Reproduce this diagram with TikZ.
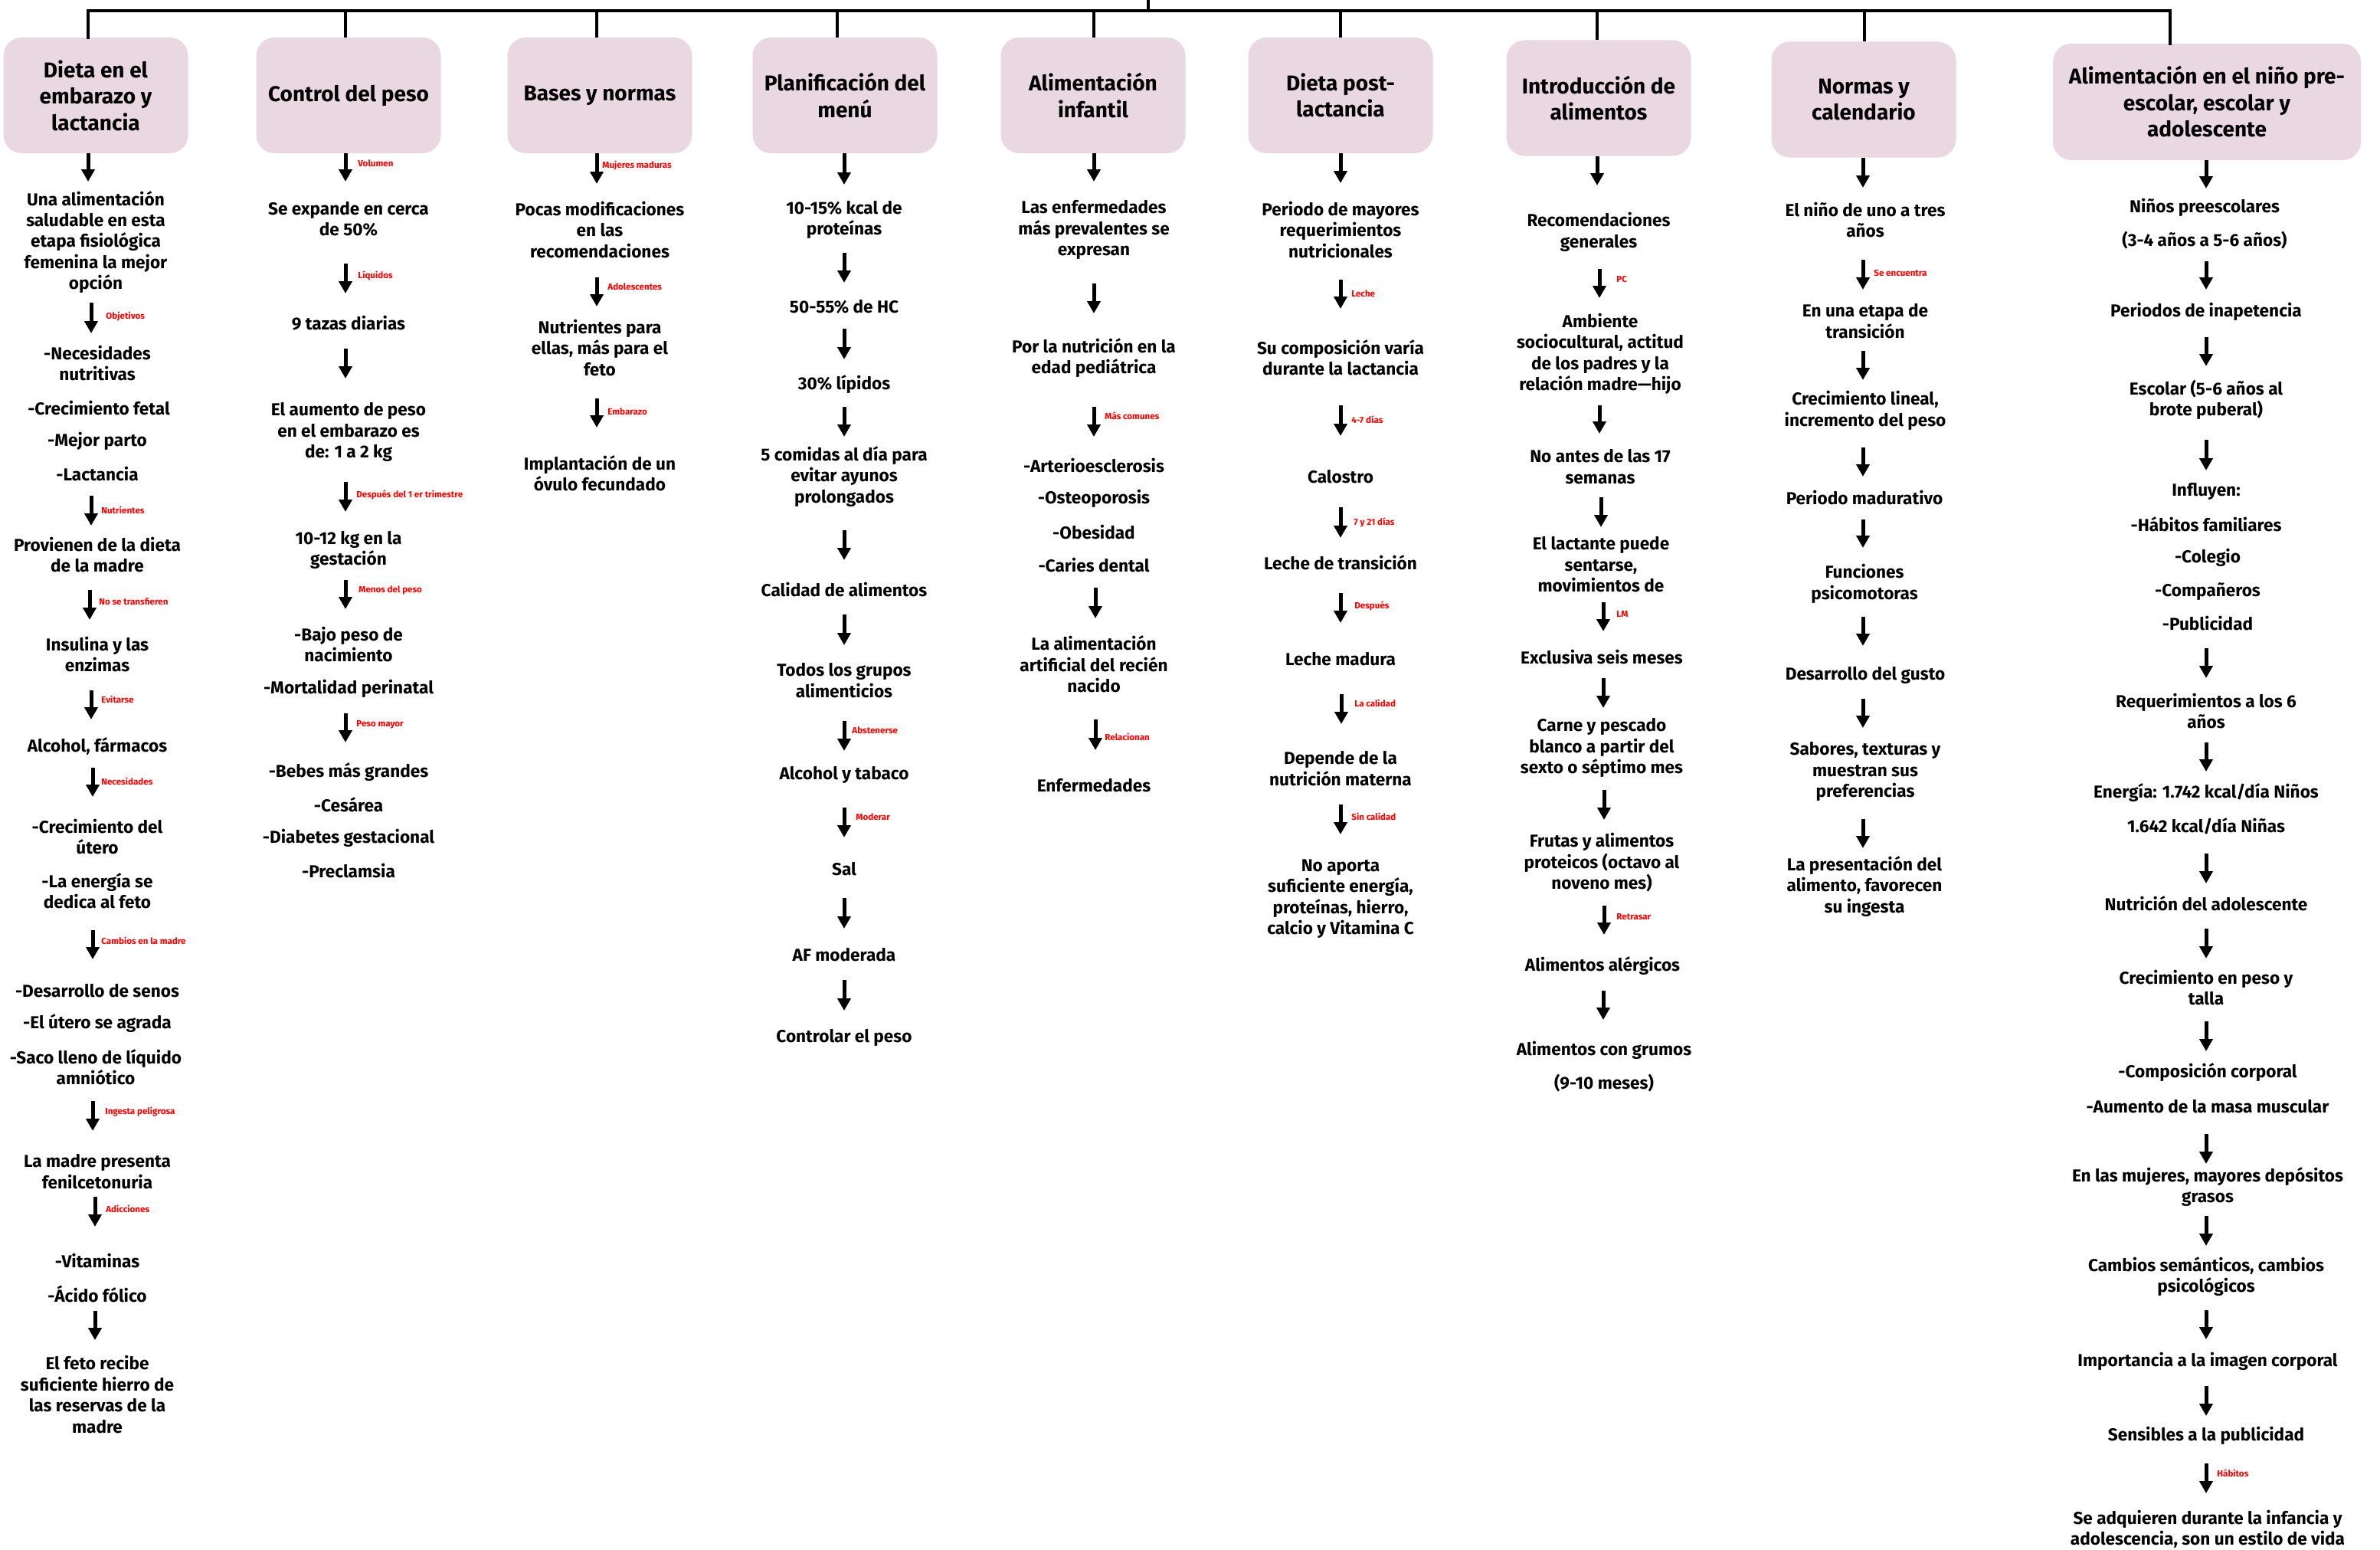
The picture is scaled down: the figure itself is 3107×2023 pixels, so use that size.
\documentclass[tikz,border=0pt]{standalone}
\usepackage{fontspec}
\setmainfont{Fira Sans}
\usetikzlibrary{arrows.meta}
\definecolor{boxpink}{RGB}{233,215,225}
\definecolor{lblred}{RGB}{255,0,0}
\tikzset{
 box/.style={fill=boxpink, rounded corners=12pt, minimum width=120.5pt, minimum height=75.5pt, align=center, inner sep=2pt, font=\fontsize{14}{17.25}\selectfont\bfseries},
 txt/.style={align=center, inner sep=0pt, font=\fontsize{11.3}{13.7}\selectfont\bfseries},
 lbl/.style={anchor=west, inner sep=0pt, text=lblred, font=\fontsize{5.8}{7}\selectfont\bfseries},
 arr/.style={line width=2.5pt, -{Triangle[width=8.5pt,length=8pt]}},
 conn/.style={line width=2pt},
}
\newcommand{\TXT}[4]{\node[txt] (#1) at (#2,#3) {#4};}
\newcommand{\ARW}[4]{\coordinate (#1s) at (#2,#3); \coordinate (#1e) at (#2,#4); \draw[arr] (#1s) -- (#1e);}
\newcommand{\LBL}[4]{\node[lbl] (#1) at (#2,#3) {#4};}
\begin{document}
\begin{tikzpicture}[x=0.5pt,y=-0.5pt]
\useasboundingbox (0,0) rectangle (3107,2023);
\fill[white] (0,0) rectangle (3107,2023);
% boxes
\node[box] (b1) at (125,124.5) {Dieta en el\\embarazo y\\lactancia};
\node[box] (b2) at (455,124.5) {Control del peso};
\node[box] (b3) at (783,124.5) {Bases y normas};
\node[box] (b4) at (1103,124.5) {Planificación del\\menú};
\node[box] (b5) at (1427,124.5) {Alimentación\\infantil};
\node[box] (b6) at (1750,124.5) {Dieta post-\\lactancia};
\node[box] (b7) at (2087,128) {Introducción de\\alimentos};
\node[box] (b8) at (2433,130) {Normas y\\calendario};
\node[box, minimum width=201pt, minimum height=76pt] (b9) at (2881,133) {Alimentación en el niño pre-\\escolar, escolar y\\adolescente};
% top connectors
\coordinate (top) at (1499,0);
\coordinate (hub) at (1499,14);
\coordinate (h1) at (115,14);
\coordinate (h2) at (451,14);
\coordinate (h3) at (779,14);
\coordinate (h4) at (1093,14);
\coordinate (h5) at (1428,14);
\coordinate (h6) at (1750,14);
\coordinate (h7) at (2085,14);
\coordinate (h8) at (2434,14);
\coordinate (h9) at (2833,14);
\draw[conn] (top) -- (hub);
\draw[conn, line cap=rect] (h1 |- b1.north) -- (h1) -- (h9) -- (h9 |- b9.north);
\foreach \k in {2,...,8} { \draw[conn] (h\k) -- (h\k |- b\k.north); }
% ---------- column 1
\ARW{a11}{115}{200}{237}
\TXT{t11}{125}{316}{Una alimentación\\saludable en esta\\etapa fisiológica\\femenina la mejor\\opción}
\ARW{a12}{119}{395}{435}\LBL{l12}{138}{413}{Objetivos}
\TXT{t12}{127}{474}{-Necesidades\\nutritivas}
\TXT{t13}{129}{533}{-Crecimiento fetal}
\TXT{t14}{127}{576}{-Mejor parto}
\TXT{t15}{127}{619}{-Lactancia}
\ARW{a13}{119}{647}{686}\LBL{l13}{132}{666}{Nutrientes}
\TXT{t16}{127}{724}{Provienen de la dieta\\de la madre}
\ARW{a14}{117}{770}{809}\LBL{l14}{129}{785}{No se transfieren}
\TXT{t17}{127}{854}{Insulina y las\\enzimas}
\ARW{a15}{119}{901}{939}\LBL{l15}{132}{913}{Evitarse}
\TXT{t18}{127}{974}{Alcohol, fármacos}
\ARW{a16}{121}{1002}{1040}\LBL{l16}{132}{1020}{Necesidades}
\TXT{t19}{127}{1092}{-Crecimiento del\\útero}
\TXT{t110}{127}{1163}{-La energía se\\dedica al feto}
\ARW{a17}{121}{1214}{1252}\LBL{l17}{132}{1228}{Cambios en la madre}
\TXT{t111}{127}{1293}{-Desarrollo de senos}
\TXT{t112}{127}{1336}{-El útero se agrada}
\TXT{t113}{125}{1393}{-Saco lleno de líquido\\amniótico}
\ARW{a18}{121}{1437}{1476}\LBL{l18}{137}{1451}{Ingesta peligrosa}
\TXT{t114}{127}{1529}{La madre presenta\\fenilcetonuria}
\ARW{a19}{124}{1562}{1601}\LBL{l19}{138}{1578}{Adicciones}
\TXT{t115}{127}{1646}{-Vitaminas}
\TXT{t116}{127}{1689}{-Ácido fólico}
\ARW{a110}{124}{1711}{1749}
\TXT{t117}{127}{1820}{El feto recibe\\suficiente hierro de\\las reservas de la\\madre}
% ---------- column 2
\ARW{a21}{451}{200}{237}\LBL{l21}{467}{213}{Volumen}
\TXT{t21}{455}{286}{Se expande en cerca\\de 50\%}
\ARW{a22}{451}{344}{383}\LBL{l22}{467}{360}{Líquidos}
\TXT{t22}{455}{422}{9 tazas diarias}
\ARW{a23}{451}{455}{494}
\TXT{t23}{455}{564}{El aumento de peso\\en el embarazo es\\de: 1 a 2 kg}
\ARW{a24}{451}{629}{668}\LBL{l24}{465}{646}{Después del 1 er trimestre}
\TXT{t24}{455}{718}{10-12 kg en la\\gestación}
\ARW{a25}{451}{757}{795}\LBL{l25}{468}{770}{Menos del peso}
\TXT{t25}{455}{841}{-Bajo peso de\\nacimiento}
\TXT{t26}{455}{899}{-Mortalidad perinatal}
\ARW{a26}{451}{931}{969}\LBL{l26}{465}{946}{Peso mayor}
\TXT{t27}{455}{1008}{-Bebes más grandes}
\TXT{t28}{455}{1050}{-Cesárea}
\TXT{t29}{455}{1094}{-Diabetes gestacional}
\TXT{t210}{455}{1137}{-Preclamsia}
% ---------- column 3
\ARW{a31}{779}{200}{240}\LBL{l31}{786}{216}{Mujeres maduras}
\TXT{t31}{783}{300}{Pocas modificaciones\\en las\\recomendaciones}
\ARW{a32}{779}{362}{400}\LBL{l32}{793}{374}{Adolescentes}
\TXT{t32}{783}{454}{Nutrientes para\\ellas, más para el\\feto}
\ARW{a33}{779}{520}{558}\LBL{l33}{793}{537}{Embarazo}
\TXT{t33}{783}{618}{Implantación de un\\óvulo fecundado}
% ---------- column 4
\ARW{a41}{1102}{200}{241}
\TXT{t41}{1102}{287}{10-15\% kcal de\\proteínas}
\ARW{a42}{1102}{330}{369}
\TXT{t42}{1102}{400}{50-55\% de HC}
\ARW{a43}{1102}{429}{469}
\TXT{t43}{1102}{502}{30\% lípidos}
\ARW{a44}{1102}{531}{570}
\TXT{t44}{1102}{622}{5 comidas al día para\\evitar ayunos\\prolongados}
\ARW{a45}{1102}{692}{731}
\TXT{t45}{1102}{770}{Calidad de alimentos}
\ARW{a46}{1102}{802}{842}
\TXT{t46}{1102}{888}{Todos los grupos\\alimenticios}
\ARW{a47}{1102}{941}{980}\LBL{l47}{1112}{953}{Abstenerse}
\TXT{t47}{1102}{1011}{Alcohol y tabaco}
\ARW{a48}{1102}{1054}{1093}\LBL{l48}{1117}{1066}{Moderar}
\TXT{t48}{1102}{1134}{Sal}
\ARW{a49}{1102}{1172}{1212}
\TXT{t49}{1102}{1246}{AF moderada}
\ARW{a410}{1102}{1279}{1319}
\TXT{t410}{1102}{1354}{Controlar el peso}
% ---------- column 5
\ARW{a51}{1428}{200}{237}
\TXT{t51}{1428}{300}{Las enfermedades\\más prevalentes se\\expresan}
\ARW{a52}{1428}{370}{409}
\TXT{t52}{1428}{467}{Por la nutrición en la\\edad pediátrica}
\ARW{a53}{1428}{531}{570}\LBL{l53}{1442}{543}{Más comunes}
\TXT{t53}{1428}{608}{-Arterioesclerosis}
\TXT{t54}{1428}{651}{-Osteoporosis}
\TXT{t55}{1428}{695}{-Obesidad}
\TXT{t56}{1428}{738}{-Caries dental}
\ARW{a54}{1430}{767}{807}
\TXT{t57}{1428}{867}{La alimentación\\artificial del recién\\nacido}
\ARW{a55}{1430}{939}{979}\LBL{l55}{1442}{962}{Relacionan}
\TXT{t58}{1428}{1025}{Enfermedades}
% ---------- column 6
\ARW{a61}{1750}{200}{239}
\TXT{t61}{1750}{300}{Periodo de mayores\\requerimientos\\nutricionales}
\ARW{a62}{1750}{365}{403}\LBL{l62}{1764}{383}{Leche}
\TXT{t62}{1750}{467}{Su composición varía\\durante la lactancia}
\ARW{a63}{1750}{529}{569}\LBL{l63}{1764}{548}{4-7 días}
\TXT{t63}{1750}{622}{Calostro}
\ARW{a64}{1750}{662}{702}\LBL{l64}{1767}{682}{7 y 21 días}
\TXT{t64}{1750}{734}{Leche de transición}
\ARW{a65}{1750}{774}{813}\LBL{l65}{1768}{791}{Después}
\TXT{t65}{1750}{860}{Leche madura}
\ARW{a66}{1751}{906}{945}\LBL{l66}{1768}{918}{La calidad}
\TXT{t66}{1750}{1003}{Depende de la\\nutrición materna}
\ARW{a67}{1750}{1050}{1089}\LBL{l67}{1764}{1066}{Sin calidad}
\TXT{t67}{1750}{1173}{No aporta\\suficiente energía,\\proteínas, hierro,\\calcio y Vitamina C}
% ---------- column 7
\ARW{a71}{2085}{204}{242}
\TXT{t71}{2087}{303}{Recomendaciones\\generales}
\ARW{a72}{2088}{351}{389}\LBL{l72}{2110}{364}{PC}
\TXT{t72}{2089}{462}{Ambiente\\sociocultural, actitud\\de los padres y la\\relación madre—hijo}
\ARW{a73}{2088}{529}{566}
\TXT{t73}{2089}{609}{No antes de las 17\\semanas}
\ARW{a74}{2090}{649}{688}
\TXT{t74}{2090}{737}{El lactante puede\\sentarse,\\movimientos de}
\ARW{a75}{2093}{786}{824}\LBL{l75}{2110}{801}{LM}
\TXT{t75}{2091}{858}{Exclusiva seis meses}
\ARW{a76}{2093}{885}{924}
\TXT{t76}{2091}{976}{Carne y pescado\\blanco a partir del\\sexto o séptimo mes}
\ARW{a77}{2094}{1031}{1070}
\TXT{t77}{2091}{1126}{Frutas y alimentos\\proteicos (octavo al\\noveno mes)}
\ARW{a78}{2094}{1182}{1220}\LBL{l78}{2110}{1197}{Retrasar}
\TXT{t78}{2092}{1261}{Alimentos alérgicos}
\ARW{a79}{2093}{1293}{1331}
\TXT{t79}{2094}{1371}{Alimentos con grumos}
\TXT{t710}{2094}{1414}{(9-10 meses)}
% ---------- column 8
\ARW{a81}{2432}{206}{245}
\TXT{t81}{2435}{287}{El niño de uno a tres\\años}
\ARW{a82}{2432}{339}{378}\LBL{l82}{2446}{356}{Se encuentra}
\TXT{t82}{2435}{419}{En una etapa de\\transición}
\ARW{a83}{2432}{458}{496}
\TXT{t83}{2435}{536}{Crecimiento lineal,\\incremento del peso}
\ARW{a84}{2432}{584}{622}
\TXT{t84}{2434}{650}{Periodo madurativo}
\ARW{a85}{2432}{678}{715}
\TXT{t85}{2434}{762}{Funciones\\psicomotoras}
\ARW{a86}{2432}{805}{843}
\TXT{t86}{2435}{881}{Desarrollo del gusto}
\ARW{a87}{2432}{912}{950}
\TXT{t87}{2435}{1007}{Sabores, texturas y\\muestran sus\\preferencias}
\ARW{a88}{2432}{1069}{1107}
\TXT{t88}{2434}{1157}{La presentación del\\alimento, favorecen\\su ingesta}
% ---------- column 9
\ARW{a91}{2880}{209}{246}
\TXT{t91}{2878}{271}{Niños preescolares}
\TXT{t92}{2878}{314}{(3-4 años a 5-6 años)}
\ARW{a92}{2880}{341}{378}
\TXT{t93}{2880}{407}{Periodos de inapetencia}
\ARW{a93}{2880}{440}{478}
\TXT{t94}{2880}{522}{Escolar (5-6 años al\\brote puberal)}
\ARW{a94}{2880}{574}{614}
\TXT{t95}{2880}{641}{Influyen:}
\TXT{t96}{2880}{684}{-Hábitos familiares}
\TXT{t97}{2882}{728}{-Colegio}
\TXT{t98}{2882}{772}{-Compañeros}
\TXT{t99}{2882}{814}{-Publicidad}
\ARW{a95}{2880}{846}{885}
\TXT{t910}{2880}{928}{Requerimientos a los 6\\años}
\ARW{a96}{2880}{969}{1007}
\TXT{t911}{2880}{1035}{Energía: 1.742 kcal/día Niños}
\TXT{t912}{2880}{1078}{1.642 kcal/día Niñas}
\ARW{a97}{2880}{1114}{1153}
\TXT{t913}{2880}{1179}{Nutrición del adolescente}
\ARW{a98}{2880}{1212}{1251}
\TXT{t914}{2880}{1289}{Crecimiento en peso y\\talla}
\ARW{a99}{2880}{1333}{1372}
\TXT{t915}{2882}{1400}{-Composición corporal}
\TXT{t916}{2882}{1444}{-Aumento de la masa muscular}
\ARW{a910}{2880}{1480}{1519}
\TXT{t917}{2882}{1549}{En las mujeres, mayores depósitos\\grasos}
\ARW{a911}{2880}{1587}{1626}
\TXT{t918}{2880}{1666}{Cambios semánticos, cambios\\psicológicos}
\ARW{a912}{2880}{1710}{1748}
\TXT{t919}{2882}{1777}{Importancia a la imagen corporal}
\ARW{a913}{2880}{1809}{1848}
\TXT{t920}{2880}{1874}{Sensibles a la publicidad}
\ARW{a914}{2880}{1910}{1949}\LBL{l914}{2894}{1923}{Hábitos}
\TXT{t921}{2882}{1996}{Se adquieren durante la infancia y\\adolescencia, son un estilo de vida}
\end{tikzpicture}
\end{document}
